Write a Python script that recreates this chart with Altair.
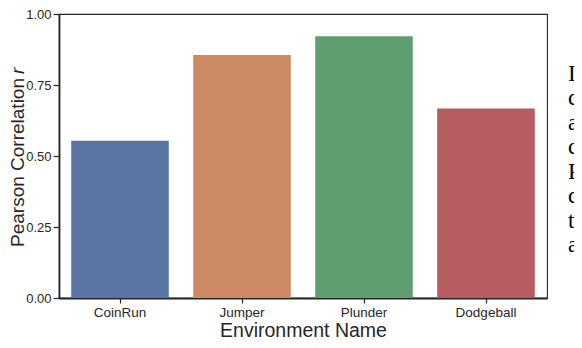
import altair as alt
import pandas as pd

envs = ["CoinRun", "Jumper", "Plunder", "Dodgeball"]
corr = [0.554, 0.856, 0.922, 0.667]
colors = ["#5975a4", "#cc8963", "#5f9e6e", "#b55d60"]
y_ticks = [0.0, 0.25, 0.5, 0.75, 1.0]
side_letters = ["I", "c", "a", "c", "P", "c", "t", "a"]

df = pd.DataFrame({"env": envs, "r": corr})
letters_df = pd.DataFrame({"ch": side_letters, "line": list(range(len(side_letters)))})

W, H = 488, 284
FONT = "Liberation Sans"
DARK = "#262626"

bars = alt.Chart(df).mark_bar().encode(
    x=alt.X(
        "env:N",
        sort=envs,
        scale=alt.Scale(paddingInner=0.2, paddingOuter=0.1),
        axis=alt.Axis(
            title="Environment Name",
            labelAngle=0,
            labelFont=FONT,
            labelFontSize=13.5,
            labelColor=DARK,
            labelPadding=2,
            tickSize=5,
            tickWidth=1.2,
            tickColor=DARK,
            domainWidth=1.8,
            domainColor=DARK,
            titleFont=FONT,
            titleFontSize=19.5,
            titleFontWeight="normal",
            titleColor=DARK,
            titleBaseline="alphabetic",
            titleY=38,
        ),
    ),
    y=alt.Y(
        "r:Q",
        scale=alt.Scale(domain=[0, 1], nice=False),
        axis=alt.Axis(
            title=None,
            values=y_ticks,
            format=".2f",
            labelFont=FONT,
            labelFontSize=13,
            labelColor=DARK,
            labelPadding=2,
            tickSize=6,
            tickWidth=1.2,
            tickColor=DARK,
            domainWidth=1.8,
            domainColor=DARK,
        ),
    ),
    color=alt.Color("env:N", scale=alt.Scale(domain=envs, range=colors), legend=None),
)

ytitle_main = alt.Chart(pd.DataFrame({"t": ["Pearson Correlation"]})).mark_text(
    angle=270, align="right", baseline="alphabetic", font=FONT, fontSize=19, color=DARK
).encode(text="t:N", x=alt.value(-35), y=alt.value(64))

ytitle_r = alt.Chart(pd.DataFrame({"t": ["r"]})).mark_text(
    angle=270, align="left", baseline="alphabetic", font=FONT, fontSize=19,
    fontStyle="italic", color=DARK
).encode(text="t:N", x=alt.value(-35), y=alt.value(60))

letters = alt.Chart(letters_df).mark_text(
    align="left", baseline="alphabetic", font="Liberation Serif", fontSize=23, color="#000000"
).encode(
    text="ch:N",
    x=alt.value(509),
    y=alt.Y("line:Q", scale=alt.Scale(domain=[0, 7], range=[67, 238]), axis=None),
)

chart = (
    alt.layer(bars, ytitle_main, ytitle_r, letters)
    .resolve_scale(y="independent")
    .properties(
        width=W,
        height=H,
        autosize=alt.AutoSizeParams(type="none"),
        padding={"left": 51, "top": 6, "right": 27, "bottom": 41},
        background="white",
    )
    .configure_view(stroke=DARK, strokeWidth=1.1)
    .configure_axis(grid=False)
)

chart.save("out.html", embed_options={"renderer": "svg", "actions": False})
